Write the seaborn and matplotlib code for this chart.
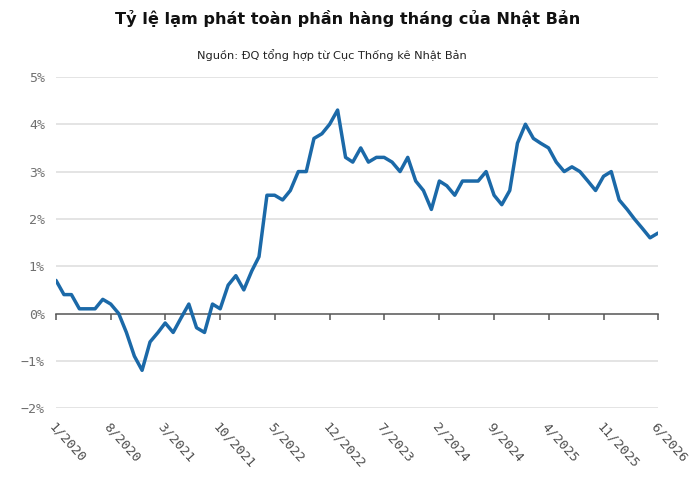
import pandas as pd
import matplotlib
matplotlib.use("Agg")
import matplotlib.pyplot as plt
import seaborn as sns

# Lạm phát toàn phần hàng tháng (%) từ 1/2020
start_month = "2020-01-01"
inflation = [
    0.7, 0.4, 0.4, 0.1, 0.1, 0.1, 0.3, 0.2, 0.0, -0.4, -0.9, -1.2,
    -0.6, -0.4, -0.2, -0.4, -0.1, 0.2, -0.3, -0.4, 0.2, 0.1, 0.6, 0.8,
    0.5, 0.9, 1.2, 2.5, 2.5, 2.4, 2.6, 3.0, 3.0, 3.7, 3.8, 4.0,
    4.3, 3.3, 3.2, 3.5, 3.2, 3.3, 3.3, 3.2, 3.0, 3.3, 2.8, 2.6,
    2.2, 2.8, 2.7, 2.5, 2.8, 2.8, 2.8, 3.0, 2.5, 2.3, 2.6, 3.6,
    4.0, 3.7, 3.6, 3.5, 3.2, 3.0, 3.1, 3.0, 2.8, 2.6, 2.9, 3.0,
    2.4, 2.2, 2.0, 1.8, 1.6, 1.7,
]
y_ticks = [-2, -1, 0, 1, 2, 3, 4, 5]

months = pd.date_range(start_month, periods=len(inflation), freq="MS")
df = pd.DataFrame({"month": months, "value": inflation})
tick_months = months[::7]
tick_labels = [f"{d.month}/{d.year}" for d in tick_months]

sns.set_theme(style="white")
plt.rcParams["font.family"] = ["DejaVu Sans"]

fig = plt.figure(figsize=(7, 4.9), dpi=100)
ax = fig.add_axes([0.08, 0.167, 0.86, 0.676])

sns.lineplot(data=df, x="month", y="value", ax=ax, color="#1b69a8",
             linewidth=2.5, zorder=3)

ax.set_xlim(months[0], months[-1])
ax.set_ylim(-2, 5)
ax.set_yticks(y_ticks)
ax.set_yticklabels([f"{t}%".replace("-", "\u2212") for t in y_ticks],
                   family="DejaVu Sans Mono", fontsize=9.5, color="#707070")
ax.tick_params(axis="y", length=0, pad=8)
for t in y_ticks:
    if t != 0:
        ax.axhline(t, color="#dddddd", linewidth=1.1, zorder=1)

for s in ["top", "right", "left"]:
    ax.spines[s].set_visible(False)
ax.spines["bottom"].set_position(("data", 0))
ax.spines["bottom"].set_color("#555555")
ax.spines["bottom"].set_linewidth(1.1)
ax.set_xticks(tick_months)
ax.tick_params(axis="x", direction="out", length=4, width=1.1,
               color="#555555", labelbottom=False, bottom=True)
ax.set_xlabel("")
ax.set_ylabel("")

sec = ax.secondary_xaxis("bottom")
sec.set_xticks(tick_months)
sec.set_xticklabels(tick_labels, family="DejaVu Sans Mono", fontsize=9.5,
                    color="#505050", rotation=-48, ha="left", va="top",
                    rotation_mode="anchor")
sec.tick_params(axis="x", length=0, pad=9)
sec.spines["bottom"].set_visible(False)

fig.text(0.497, 0.963, "Tỷ lệ lạm phát toàn phần hàng tháng của Nhật Bản",
         ha="center", va="center", fontsize=11.6, fontweight="bold",
         color="#111111")
fig.text(0.474, 0.888, "Nguồn: ĐQ tổng hợp từ Cục Thống kê Nhật Bản",
         ha="center", va="center", fontsize=8.2, color="#222222")

fig.savefig("out.png", dpi=100)
